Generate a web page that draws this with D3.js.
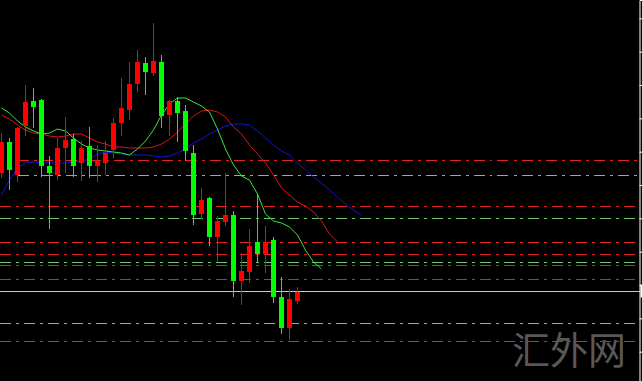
<!DOCTYPE html>
<html>
<head>
<meta charset="utf-8">
<script src="https://cdn.jsdelivr.net/npm/d3@7"></script>
<style>
  html, body { margin: 0; padding: 0; background: #000; overflow: hidden; }
</style>
</head>
<body>
<div id="chart"></div>
<script>
// Chart size
const width = 642;
const height = 381;
const plotRight = 637;   // dashed levels stop here
const axisX = 639.5;     // price scale border

// Candles (oldest -> newest)
const opens  = [1303.36,1304.29,1303.30,1304.77,1305.52,1305.55,1303.57,1303.30,1304.11,1304.38,
                1303.66,1304.17,1303.57,1303.66,1304.05,1304.86,1305.25,1306.03,1306.66,1306.36,
                1306.69,1305.10,1305.52,1305.22,1303.96,1302.13,1302.61,1301.44,1301.89,1302.10,
                1300.12,1300.39,1301.29,1300.93,1301.35,1299.64,1298.71,1299.52];
const highs  = [1304.56,1304.41,1304.74,1306.00,1305.91,1305.58,1303.87,1304.41,1305.04,1304.53,
                1304.32,1304.74,1304.20,1304.32,1305.01,1306.21,1306.69,1307.05,1306.84,1307.86,
                1306.90,1305.55,1305.64,1305.40,1304.20,1302.91,1302.64,1302.07,1303.36,1302.22,
                1300.96,1301.68,1302.73,1301.77,1301.44,1300.24,1299.88,1299.94];
const lows   = [1303.21,1302.85,1303.09,1304.47,1304.71,1303.24,1301.68,1303.15,1303.36,1303.24,
                1303.12,1303.21,1303.09,1303.30,1303.81,1304.47,1304.95,1305.79,1305.70,1306.27,
                1304.71,1304.47,1304.29,1303.72,1301.80,1301.98,1301.17,1300.69,1301.77,1299.64,
                1299.40,1300.06,1300.66,1300.36,1299.46,1298.53,1298.35,1299.43];
const closes = [1304.29,1303.45,1304.71,1305.49,1305.34,1303.57,1303.36,1304.11,1304.35,1303.57,
                1304.11,1303.57,1303.72,1303.96,1304.86,1305.31,1306.03,1306.69,1306.39,1306.72,
                1305.07,1305.52,1305.16,1304.02,1302.10,1302.55,1301.44,1301.92,1302.10,1300.12,
                1300.42,1301.17,1300.93,1301.29,1299.64,1298.71,1299.58,1299.79];

// Moving averages, one value per bar slot (they run past the last candle)
const greenMA = [1305.31,1305.16,1304.92,1304.74,1304.62,1304.53,1304.56,1304.68,1304.62,1304.41,
                 1304.23,1304.11,1304.05,1304.02,1303.99,1303.96,1303.90,1304.08,1304.32,1304.65,
                 1305.10,1305.43,1305.61,1305.61,1305.49,1305.37,1305.19,1304.68,1304.08,1303.60,
                 1303.27,1303.15,1302.73,1302.13,1301.92,1301.86,1301.74,1301.50,1301.05,1300.69,
                 1300.48];
const redMA   = [1305.10,1304.98,1304.80,1304.65,1304.56,1304.53,1304.47,1304.44,1304.47,1304.53,
                 1304.53,1304.41,1304.29,1304.23,1304.14,1304.14,1304.11,1304.11,1304.11,1304.14,
                 1304.23,1304.38,1304.59,1304.83,1305.07,1305.22,1305.25,1305.19,1305.04,1304.74,
                 1304.53,1304.20,1303.93,1303.66,1303.30,1302.91,1302.70,1302.49,1302.37,1302.19,
                 1301.92,1301.53,1301.29];
const blueMA  = [1302.70,1303.15,1303.51,1303.66,1303.69,1303.66,1303.66,1303.66,1303.66,1303.69,
                 1303.72,1303.78,1303.93,1303.99,1303.96,1303.93,1303.90,1303.90,1303.90,1303.87,
                 1303.84,1303.87,1303.96,1304.08,1304.26,1304.38,1304.53,1304.65,1304.77,1304.83,
                 1304.83,1304.80,1304.62,1304.41,1304.20,1304.02,1303.90,1303.66,1303.45,1303.24,
                 1303.06,1302.85,1302.64,1302.43,1302.25,1302.10];

// Horizontal levels and the bar they start from
const redLevels   = [1303.72,1302.37,1301.26,1300.90,1300.60,1300.15,1298.29];
const redStarts   = [2,0,0,0,0,0,0];
const greenLevels = [1303.27,1301.98,1300.66,1298.83];
const greenStarts = [2,0,0,0];

// Price scale ticks (labels fall outside the visible window)
const priceTicks = [1298,1299,1300,1301,1302,1303,1304,1305,1306,1307,1308];

const svg = d3.select("#chart")
  .append("svg")
  .attr("width", width)
  .attr("height", height)
  .style("display", "block")
  .style("background", "#000");

// Scales
const x = d3.scaleLinear().domain([0, 79]).range([1.5, 1.5 + 8 * 79]);
const y = d3.scaleLinear().domain([1297.12, 1308.55]).range([height, 0]);
const crispY = v => Math.floor(y(v)) + 0.5;

/*
  Levels
*/
const levels = [];
redLevels.forEach((v, i) => levels.push({v: v, s: redStarts[i], c: "#dc2424"}));
greenLevels.forEach((v, i) => levels.push({v: v, s: greenStarts[i], c: "#6cc86c"}));

svg.append("g").selectAll("line")
  .data(levels)
  .enter()
  .append("line")
    .attr("x1", d => d.s === 0 ? 0 : x(d.s))
    .attr("x2", plotRight)
    .attr("y1", d => crispY(d.v))
    .attr("y2", d => crispY(d.v))
    .attr("stroke", d => d.c)
    .attr("stroke-width", 1)
    .attr("stroke-dasharray", "11,5,3,5")
    .attr("shape-rendering", "crispEdges");

// Bid line at last close
const lastClose = closes[closes.length - 1];
svg.append("line")
  .attr("x1", 0)
  .attr("x2", axisX)
  .attr("y1", crispY(lastClose))
  .attr("y2", crispY(lastClose))
  .attr("stroke", "#c8c8c8")
  .attr("stroke-width", 1)
  .attr("shape-rendering", "crispEdges");

/*
  Moving averages
*/
const maLine = d3.line()
  .x((d, i) => x(i))
  .y(d => y(d));

[[blueMA, "#1414d2"], [redMA, "#e01414"], [greenMA, "#3ee03e"]].forEach(m => {
  svg.append("path")
    .datum(m[0])
    .attr("d", maLine)
    .attr("fill", "none")
    .attr("stroke", m[1])
    .attr("stroke-width", 1);
});

/*
  Candles
*/
const candles = opens.map((o, i) => ({
  i: i, o: o, h: highs[i], l: lows[i], c: closes[i]
}));
const colorOf = d => d.c >= d.o ? "#ff0000" : "#00ff00";

const g = svg.append("g").attr("shape-rendering", "crispEdges");

g.selectAll(".wick")
  .data(candles)
  .enter()
  .append("line")
    .attr("class", "wick")
    .attr("x1", d => Math.floor(x(d.i)) + 0.5)
    .attr("x2", d => Math.floor(x(d.i)) + 0.5)
    .attr("y1", d => Math.round(y(d.h)))
    .attr("y2", d => Math.round(y(d.l)))
    .attr("stroke", colorOf)
    .attr("stroke-width", 1);

g.selectAll(".body")
  .data(candles)
  .enter()
  .append("rect")
    .attr("class", "body")
    .attr("x", d => Math.floor(x(d.i)) - 2)
    .attr("width", 5)
    .attr("y", d => Math.round(y(Math.max(d.o, d.c))))
    .attr("height", d => Math.max(1, Math.round(Math.abs(y(d.o) - y(d.c)))))
    .attr("fill", colorOf);

/*
  Price scale on the right
*/
const axis = svg.append("g")
  .attr("transform", `translate(${axisX},0)`)
  .call(d3.axisRight(y).tickValues(priceTicks).tickSize(4).tickFormat(""));
axis.select(".domain").attr("stroke", "#ffffff");
axis.selectAll(".tick line").attr("stroke", "#ffffff");

// Bid price tag (only its left edge shows)
svg.append("rect")
  .attr("x", axisX + 1)
  .attr("y", crispY(lastClose) - 7)
  .attr("width", 46)
  .attr("height", 13)
  .attr("fill", "#ffffff");

// Watermark
svg.append("text")
  .attr("x", 512)
  .attr("y", 364)
  .attr("font-family", "Noto Sans CJK SC")
  .attr("font-size", 38)
  .attr("fill", "#585858")
  .text("汇外网");
</script>
</body>
</html>
